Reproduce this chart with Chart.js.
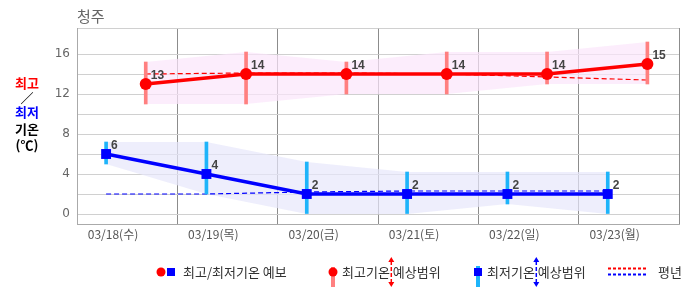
<!DOCTYPE html>
<html>
<head>
<meta charset="utf-8">
<script src="https://cdn.jsdelivr.net/npm/chart.js@4.4.1/dist/chart.umd.min.js"></script>
<style>
    html, body { margin: 0; padding: 0; background: #fff; }
    canvas { display: block; }
</style>
</head>
<body>
<canvas id="tempChart" width="686" height="295"></canvas>
<script>
const CITY = '청주';
const DATES = ['03/18(수)', '03/19(목)', '03/20(금)', '03/21(토)', '03/22(일)', '03/23(월)'];
const MAX_TEMPS = [13, 14, 14, 14, 14, 15];
const MIN_TEMPS = [6, 4, 2, 2, 2, 2];
const MAX_RANGE_HI = [15.2, 16.2, 15.2, 16.2, 16.2, 17.2];
const MAX_RANGE_LO = [11, 11, 12, 12, 13, 13];
const MIN_RANGE_HI = [7.2, 7.2, 5.2, 4.2, 4.2, 4.2];
const MIN_RANGE_LO = [5, 2, 0, 0, 1, 0];
const MAX_NORMAL = [14.0, 14.1, 14.1, 14.0, 13.7, 13.4];
const MIN_NORMAL = [2.0, 2.0, 2.2, 2.3, 2.3, 2.3];
const Y_TICKS = [0, 4, 8, 12, 16];
const Y_GRID_STEP = 2;

// where in the day the min / max marks sit (fraction of a day column)
const MIN_AT = 0.29;
const MAX_AT = 0.685;

const RED = '#ff0000';
const BLUE = '#0000ff';
const RED_BAR = '#ff8080';
const BLUE_BAR = '#1eb4fa';
const KR_FONT = '"Noto Sans CJK KR", "Noto Sans", sans-serif';

const at = (vals, off) => vals.map((v, i) => ({ x: i + off, y: v }));
const range = (lo, hi, off) => lo.map((v, i) => ({ x: i + off, y: [v, hi[i]] }));

const yGrid = [];
for (let v = Y_TICKS[0]; v <= Y_TICKS[Y_TICKS.length - 1]; v += Y_GRID_STEP) yGrid.push(v);

const valueLabels = {
    id: 'valueLabels',
    afterDatasetsDraw(chart) {
        const ctx = chart.ctx;
        ctx.save();
        ctx.font = 'bold 12px "Liberation Sans", Arial, sans-serif';
        ctx.fillStyle = '#444';
        ctx.textAlign = 'left';
        ctx.textBaseline = 'alphabetic';
        [[0, MAX_TEMPS], [1, MIN_TEMPS]].forEach(([idx, vals]) => {
            chart.getDatasetMeta(idx).data.forEach((pt, i) => {
                ctx.fillText(String(vals[i]), pt.x + 5, pt.y - 5);
            });
        });
        ctx.restore();
    }
};

function arrow(ctx, x, y1, y2, color) {
    ctx.save();
    ctx.strokeStyle = color;
    ctx.fillStyle = color;
    ctx.lineWidth = 1.5;
    ctx.setLineDash([4, 2]);
    ctx.beginPath();
    ctx.moveTo(x, y1 + 4);
    ctx.lineTo(x, y2 - 4);
    ctx.stroke();
    ctx.setLineDash([]);
    ctx.beginPath();
    ctx.moveTo(x, y1); ctx.lineTo(x - 3, y1 + 5); ctx.lineTo(x + 3, y1 + 5); ctx.closePath();
    ctx.moveTo(x, y2); ctx.lineTo(x - 3, y2 - 5); ctx.lineTo(x + 3, y2 - 5); ctx.closePath();
    ctx.fill();
    ctx.restore();
}

const decorations = {
    id: 'decorations',
    afterDraw(chart) {
        const ctx = chart.ctx;
        ctx.save();

        // title
        ctx.font = '15px ' + KR_FONT;
        ctx.fillStyle = '#666';
        ctx.textAlign = 'left';
        ctx.textBaseline = 'middle';
        ctx.fillText(CITY, 77, 16);

        // y axis title
        ctx.textAlign = 'center';
        ctx.font = 'bold 13px ' + KR_FONT;
        [['최고', RED, 83], ['／', '#000', 98], ['최저', BLUE, 112], ['기온', '#000', 129], ['(℃)', '#000', 145]]
            .forEach(([t, c, y]) => {
                ctx.fillStyle = c;
                ctx.fillText(t, 27, y);
            });

        // legend
        const ly = 272;
        ctx.font = '13px ' + KR_FONT;
        ctx.textAlign = 'left';
        ctx.fillStyle = RED;
        ctx.beginPath(); ctx.arc(161, ly, 4.5, 0, Math.PI * 2); ctx.fill();
        ctx.fillStyle = BLUE;
        ctx.fillRect(167, ly - 4, 8, 8);
        ctx.fillStyle = '#333';
        ctx.fillText('최고/최저기온 예보', 183, ly);

        ctx.fillStyle = RED_BAR;
        ctx.fillRect(331, 267, 4, 20);
        ctx.fillStyle = RED;
        ctx.beginPath(); ctx.arc(333, ly, 4.5, 0, Math.PI * 2); ctx.fill();
        ctx.fillStyle = '#333';
        ctx.fillText('최고기온 예상범위', 342, ly);
        const sp = ctx.measureText(' ').width;
        arrow(ctx, 342 + ctx.measureText('최고기온 ').width - sp / 2, 257, 287, RED);

        ctx.fillStyle = BLUE_BAR;
        ctx.fillRect(476, 266, 4, 21);
        ctx.fillStyle = BLUE;
        ctx.fillRect(474, ly - 4, 8, 8);
        ctx.fillStyle = '#333';
        ctx.fillText('최저기온 예상범위', 487, ly);
        arrow(ctx, 487 + ctx.measureText('최저기온 ').width - sp / 2, 257, 287, BLUE);

        ctx.lineWidth = 2;
        ctx.setLineDash([3, 2]);
        ctx.strokeStyle = RED;
        ctx.beginPath(); ctx.moveTo(608, 268.5); ctx.lineTo(648, 268.5); ctx.stroke();
        ctx.strokeStyle = BLUE;
        ctx.beginPath(); ctx.moveTo(608, 274.5); ctx.lineTo(648, 274.5); ctx.stroke();
        ctx.setLineDash([]);
        ctx.fillStyle = '#333';
        ctx.fillText('평년', 658, ly);

        ctx.restore();
    }
};

new Chart(document.getElementById('tempChart').getContext('2d'), {
    type: 'line',
    data: {
        datasets: [
            {
                data: at(MAX_TEMPS, MAX_AT),
                borderColor: RED,
                borderWidth: 3.5,
                pointRadius: 6,
                pointBackgroundColor: RED,
                pointBorderWidth: 0,
                order: 0,
            },
            {
                data: at(MIN_TEMPS, MIN_AT),
                borderColor: BLUE,
                borderWidth: 3.5,
                pointStyle: 'rect',
                pointRadius: 7,
                pointBackgroundColor: BLUE,
                pointBorderWidth: 0,
                order: 0,
            },
            {
                type: 'bar',
                data: range(MAX_RANGE_LO, MAX_RANGE_HI, MAX_AT),
                backgroundColor: RED_BAR,
                barThickness: 3,
                grouped: false,
                order: 1,
            },
            {
                type: 'bar',
                data: range(MIN_RANGE_LO, MIN_RANGE_HI, MIN_AT),
                backgroundColor: BLUE_BAR,
                barThickness: 3,
                grouped: false,
                order: 1,
            },
            {
                data: at(MAX_NORMAL, MAX_AT),
                borderColor: RED,
                borderWidth: 1.2,
                borderDash: [5, 3],
                pointRadius: 0,
                order: 2,
            },
            {
                data: at(MIN_NORMAL, MIN_AT),
                borderColor: BLUE,
                borderWidth: 1.2,
                borderDash: [5, 3],
                pointRadius: 0,
                order: 2,
            },
            {
                data: at(MAX_RANGE_HI, MAX_AT),
                borderWidth: 0,
                pointRadius: 0,
                backgroundColor: 'rgba(251, 229, 251, 0.7)',
                fill: '+1',
                order: 3,
            },
            {
                data: at(MAX_RANGE_LO, MAX_AT),
                borderWidth: 0,
                pointRadius: 0,
                fill: false,
                order: 3,
            },
            {
                data: at(MIN_RANGE_HI, MIN_AT),
                borderWidth: 0,
                pointRadius: 0,
                backgroundColor: 'rgba(231, 231, 251, 0.7)',
                fill: '+1',
                order: 3,
            },
            {
                data: at(MIN_RANGE_LO, MIN_AT),
                borderWidth: 0,
                pointRadius: 0,
                fill: false,
                order: 3,
            }
        ]
    },
    options: {
        responsive: false,
        animation: false,
        events: [],
        layout: { padding: { top: 28, right: 3, left: 0, bottom: 0 } },
        plugins: {
            legend: { display: false },
            tooltip: { enabled: false }
        },
        scales: {
            x: {
                type: 'linear',
                min: 0,
                max: DATES.length,
                offset: false,
                afterBuildTicks: (scale) => {
                    scale.ticks = DATES.map((d, i) => ({ value: i })).concat([{ value: DATES.length }]);
                },
                afterFit: (scale) => { scale.height = 71; },
                grid: { color: '#8c8c8c', drawTicks: false, offset: false },
                border: { color: '#aaa' },
                ticks: {
                    autoSkip: false,
                    maxRotation: 0,
                    padding: 3,
                    labelOffset: 36,
                    color: '#555',
                    font: { family: KR_FONT, size: 12 },
                    callback: (v) => DATES[v] || ''
                }
            },
            y: {
                min: -1,
                max: 18.6,
                afterBuildTicks: (scale) => {
                    scale.ticks = yGrid.map(v => ({ value: v })).concat([{ value: 18.6 }]);
                },
                afterFit: (scale) => { scale.width = 77; },
                grid: { color: '#d0d0d0', drawTicks: false },
                border: { color: '#aaa' },
                ticks: {
                    padding: 7,
                    color: '#666',
                    font: { family: '"DejaVu Sans", sans-serif', size: 12 },
                    callback: (v) => Y_TICKS.includes(v) ? String(v) : ''
                }
            }
        }
    },
    plugins: [valueLabels, decorations]
});
</script>
</body>
</html>
